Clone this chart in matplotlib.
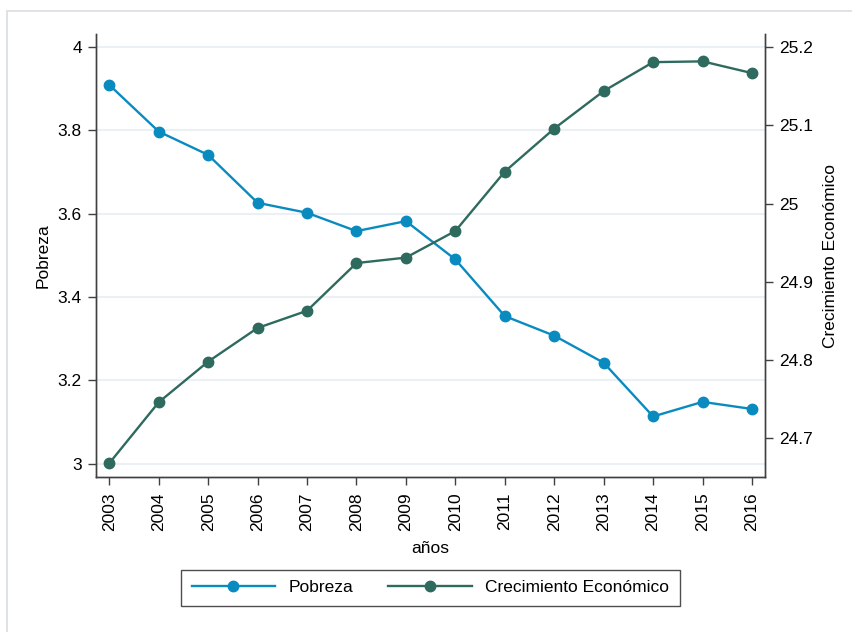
import matplotlib
matplotlib.use('Agg')
import matplotlib.pyplot as plt
from matplotlib.patches import Rectangle

plt.rcParams['font.family'] = ['Liberation Sans', 'DejaVu Sans']

# datos
anios = [2003, 2004, 2005, 2006, 2007, 2008, 2009, 2010, 2011, 2012, 2013, 2014, 2015, 2016]
pobreza = [3.909, 3.797, 3.741, 3.626, 3.602, 3.558, 3.582, 3.490, 3.354, 3.307, 3.242, 3.113, 3.148, 3.131]
crecimiento = [24.668, 24.746, 24.798, 24.841, 24.863, 24.924, 24.931, 24.965, 25.041, 25.096,
               25.144, 25.181, 25.182, 25.167]
ticks_izq = [3, 3.2, 3.4, 3.6, 3.8, 4]
etiquetas_izq = ['3', '3.2', '3.4', '3.6', '3.8', '4']
ticks_der = [24.7, 24.8, 24.9, 25, 25.1, 25.2]
etiquetas_der = ['24.7', '24.8', '24.9', '25', '25.1', '25.2']

azul = '#0a8bc0'
verde = '#2e6b5e'
eje = '#404040'
fs = 12.5

fig = plt.figure(figsize=(8.53, 6.32), dpi=100)
# marco exterior estilo Stata
fig.patches.append(Rectangle((6.7 / 853, -0.01), 1.0, 1 - 11 / 632 + 0.01, transform=fig.transFigure,
                             facecolor='white', edgecolor='#d8dee2', linewidth=1.2, zorder=-1))

ax = fig.add_axes([0.1122, 0.2448, 0.8972 - 0.1122, 0.9457 - 0.2448])
ax2 = ax.twinx()

ax.plot(anios, pobreza, color=azul, lw=1.7, marker='o', ms=7.5, label='Pobreza')
ax2.plot(anios, crecimiento, color=verde, lw=1.7, marker='o', ms=7.5, label='Crecimiento Económico')

ax.set_xlim(2002.725, 2016.27)
ax.set_ylim(2.967, 4.0305)
ax2.set_ylim(24.65, 25.2166)

ax.set_yticks(ticks_izq)
ax.set_yticklabels(etiquetas_izq)
ax2.set_yticks(ticks_der)
ax2.set_yticklabels(etiquetas_der)
ax.set_xticks(anios)
ax.set_xticklabels([str(a) for a in anios], rotation=90)

for y in ticks_izq:
    ax.axhline(y, color='#eaf0f3', lw=1.5, zorder=0)

for a in (ax, ax2):
    a.spines['top'].set_visible(False)
    for s in ('left', 'right', 'bottom'):
        a.spines[s].set_color(eje)
        a.spines[s].set_linewidth(1.0)
    a.tick_params(direction='out', length=6, width=1, color=eje, labelsize=fs, pad=4)
ax.tick_params(axis='x', pad=5)

ax.set_xlabel('años', fontsize=fs, labelpad=7)
ax.set_ylabel('Pobreza', fontsize=fs, labelpad=5)
ax2.set_ylabel('Crecimiento Económico', fontsize=fs, labelpad=7)

h1, l1 = ax.get_legend_handles_labels()
h2, l2 = ax2.get_legend_handles_labels()
leg = fig.legend(h1 + h2, l1 + l2, loc='center', bbox_to_anchor=(0.5047, 0.0703), ncol=2,
                 fontsize=fs, frameon=True, fancybox=False, handlelength=4.8, handletextpad=0.8,
                 columnspacing=2.0, borderpad=0.6)
leg.get_frame().set_edgecolor('#222222')
leg.get_frame().set_linewidth(1.0)

fig.savefig('out.png', dpi=100)
